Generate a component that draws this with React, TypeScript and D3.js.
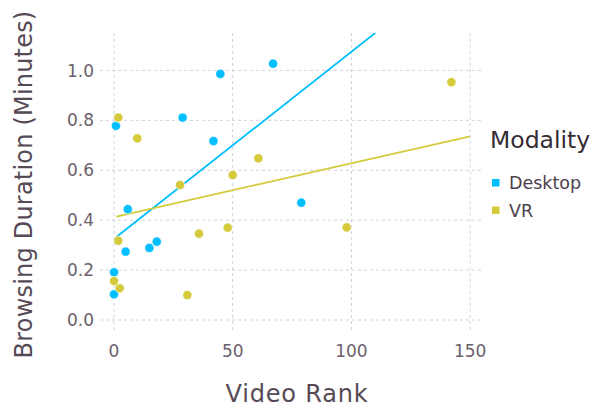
import * as d3 from "d3";

const desktopRank = [0.8, 5.8, 28.9, 41.9, 44.8, 67, 78.9, 4.9, 14.9, 18, 0, 0];
const desktopDur = [0.778, 0.444, 0.811, 0.717, 0.986, 1.027, 0.47, 0.274, 0.289, 0.314, 0.191, 0.103];
const vrRank = [1.8, 9.8, 27.8, 50, 60.8, 142.1, 98, 1.8, 0, 2.4, 30.9, 35.8, 47.9];
const vrDur = [0.811, 0.728, 0.541, 0.581, 0.648, 0.953, 0.371, 0.318, 0.156, 0.127, 0.1, 0.346, 0.37];

// linear fit (intercept, slope) per modality
const desktopFit = [0.325, 0.0075];
const vrFit = [0.412, 0.00216];
const fitRange = [1, 150];

const xTicks = [0, 50, 100, 150];
const yTicks = [0, 0.2, 0.4, 0.6, 0.8, 1.0];
const modalities = ["Desktop", "VR"];
const colors = ["#00BFFF", "#D4CA3A"];

const W = 595;
const H = 410;
const left = 100, right = 482, top = 33, bottom = 332;

export default function App() {
  const x = d3.scaleLinear().domain([-5.9, 155]).range([left, right]);
  const y = d3.scaleLinear().domain([-0.048, 1.15]).range([bottom, top]);

  const series = [
    { name: modalities[0], xs: desktopRank, ys: desktopDur, fit: desktopFit, color: colors[0] },
    { name: modalities[1], xs: vrRank, ys: vrDur, fit: vrFit, color: colors[1] },
  ];

  return (
    <svg width={W} height={H} style={{ position: "absolute", left: 0, top: 0, background: "white" }}
      fontFamily="DejaVu Sans">
      <defs>
        <clipPath id="plotclip">
          <rect x={left} y={top} width={right - left} height={bottom - top} />
        </clipPath>
      </defs>
      {/* grid */}
      <g stroke="#D0D0E0" strokeWidth={1} strokeDasharray="3,3" fill="none">
        {yTicks.map(t => (
          <line key={"gy" + t} x1={left} x2={right} y1={y(t)} y2={y(t)} />
        ))}
        {xTicks.map(t => (
          <line key={"gx" + t} x1={x(t)} x2={x(t)} y1={top} y2={bottom} />
        ))}
      </g>
      {/* tick labels */}
      <g fill="#6C606B" fontSize={17}>
        {yTicks.map(t => (
          <text key={"ty" + t} x={left - 6} y={y(t)} dy="0.36em" textAnchor="end">
            {d3.format(".1f")(t)}
          </text>
        ))}
        {xTicks.map(t => (
          <text key={"tx" + t} x={x(t)} y={357} textAnchor="middle">
            {t}
          </text>
        ))}
      </g>
      {/* axis titles */}
      <text x={(left + right) / 2 + 6} y={402} textAnchor="middle" fontSize={24} letterSpacing={0.8}
        fill="#564A55">
        Video Rank
      </text>
      <text transform={`translate(32,${(top + bottom) / 2 + 2}) rotate(-90)`} textAnchor="middle"
        fontSize={24} letterSpacing={0.2} fill="#564A55">
        Browsing Duration (Minutes)
      </text>
      {/* fits and points */}
      <g clipPath="url(#plotclip)">
        {series.map(s => {
          const pts = fitRange.map(v => [x(v), y(s.fit[0] + s.fit[1] * v)] as [number, number]);
          return (
            <path key={"fit" + s.name} d={d3.line()(pts) || ""} stroke={s.color} strokeWidth={1.8} fill="none" />
          );
        })}
        {series.map(s =>
          s.xs.map((v, i) => (
            <circle key={s.name + i} cx={x(v)} cy={y(s.ys[i])} r={4.6} fill={s.color}
              stroke="white" strokeWidth={0.6} />
          ))
        )}
      </g>
      {/* legend */}
      <text x={490} y={148} fontSize={23.5} fill="#362A35">Modality</text>
      {modalities.map((m, i) => (
        <g key={"leg" + m} transform={`translate(492,${179 + i * 27.5})`}>
          <rect x={0} y={0} width={7.5} height={7.5} fill={colors[i]} />
          <text x={17} y={3.75} dy="0.36em" fontSize={17.5} fill="#4C404B">{m}</text>
        </g>
      ))}
    </svg>
  );
}
